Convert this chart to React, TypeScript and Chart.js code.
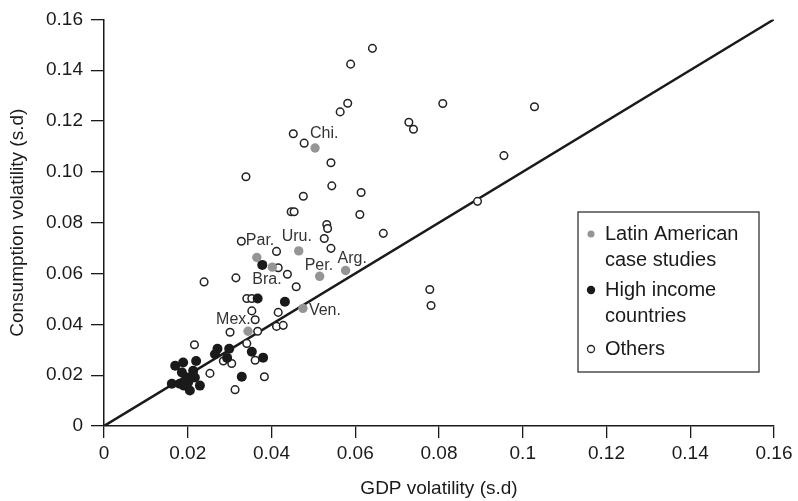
import React, { useEffect, useRef } from "react";
import { Chart, registerables } from "chart.js";
Chart.register(...registerables);

// ---- Data ----
const latinNames = ["Chi.", "Par.", "Uru.", "Bra.", "Per.", "Arg.", "Ven.", "Mex."];
const latinGdp = [0.0504, 0.0365, 0.0465, 0.0402, 0.0515, 0.0577, 0.0475, 0.0344];
const latinCons = [0.1094, 0.0663, 0.0689, 0.0625, 0.0589, 0.0612, 0.0463, 0.0373];

const highGdp = [0.0378, 0.0367, 0.0432, 0.0271, 0.0299, 0.0265, 0.0294, 0.0353, 0.038, 0.0329, 0.017, 0.0189, 0.022, 0.0186, 0.0213, 0.0162, 0.0181, 0.0201, 0.0205, 0.0229, 0.0217, 0.0198, 0.0191];
const highCons = [0.0634, 0.0502, 0.0489, 0.0304, 0.0304, 0.0282, 0.0268, 0.0292, 0.0269, 0.0194, 0.0237, 0.025, 0.0256, 0.0211, 0.0217, 0.0166, 0.0166, 0.0172, 0.014, 0.0159, 0.0191, 0.0191, 0.0159];

const otherGdp = [0.0216, 0.0301, 0.0341, 0.0367, 0.0361, 0.0353, 0.0285, 0.0305, 0.0361, 0.0253, 0.0383, 0.0313, 0.0416, 0.0412, 0.0428, 0.0315, 0.0341, 0.0353, 0.0416, 0.0438, 0.0459, 0.0328, 0.0412, 0.0239, 0.0526, 0.0542, 0.0532, 0.0534, 0.0611, 0.0614, 0.0544, 0.0476, 0.0447, 0.0454, 0.0339, 0.0542, 0.0641, 0.0589, 0.0582, 0.0564, 0.0452, 0.0478, 0.0809, 0.0728, 0.0739, 0.1028, 0.0955, 0.0892, 0.0667, 0.0778, 0.0781];
const otherCons = [0.032, 0.0369, 0.0325, 0.0373, 0.0418, 0.0453, 0.0256, 0.0246, 0.0259, 0.0207, 0.0194, 0.0143, 0.0447, 0.0392, 0.0396, 0.0583, 0.0502, 0.0502, 0.0623, 0.0597, 0.0548, 0.0727, 0.0687, 0.0567, 0.0738, 0.0699, 0.0793, 0.0777, 0.0832, 0.0919, 0.0945, 0.0904, 0.0843, 0.0843, 0.0981, 0.1036, 0.1486, 0.1424, 0.127, 0.1236, 0.115, 0.1113, 0.1269, 0.1195, 0.1168, 0.1256, 0.1064, 0.0884, 0.0758, 0.0537, 0.0474];

const diagGdp = [0, 0.16];
const diagCons = [0, 0.16];

const tickValues = [0, 0.02, 0.04, 0.06, 0.08, 0.1, 0.12, 0.14, 0.16];
const xTickLabels = ["0", "0.02", "0.04", "0.06", "0.08", "0.1", "0.12", "0.14", "0.16"];
const yTickLabels = ["0", "0.02", "0.04", "0.06", "0.08", "0.10", "0.12", "0.14", "0.16"];

const legendLines = [
  ["Latin American", "case studies"],
  ["High income", "countries"],
  ["Others"],
];

const xTitle = "GDP volatility (s.d)";
const yTitle = "Consumption volatility (s.d)";

// ---- Styles ----
const FONT = "'Liberation Sans', Arial, Helvetica, sans-serif";
const INK = "#1a1a1a";
const GRAY = "#959595";
const labelOffsets = [
  [-5, -14], [-11, -17], [-17, -14], [-20, 12], [-15, -11], [-8, -12], [6, 2], [-32, -12],
];

const zip = (xs: number[], ys: number[]) => xs.map((x, i) => ({ x, y: ys[i] }));

const pointLabelPlugin = {
  id: "pointLabels",
  afterDatasetsDraw(chart: any) {
    const meta = chart.getDatasetMeta(1);
    const ctx = chart.ctx;
    ctx.save();
    ctx.font = `16px ${FONT}`;
    ctx.fillStyle = "#333";
    ctx.textAlign = "left";
    ctx.textBaseline = "middle";
    meta.data.forEach((el: any, i: number) => {
      const [dx, dy] = labelOffsets[i];
      ctx.fillText(latinNames[i], el.x + dx, el.y + dy);
    });
    ctx.restore();
  },
};

const legendPlugin = {
  id: "customLegend",
  afterDraw(chart: any) {
    const ctx = chart.ctx;
    const bx = 578, by = 212, bw = 181, bh = 160;
    ctx.save();
    ctx.fillStyle = "#fff";
    ctx.fillRect(bx, by, bw, bh);
    ctx.strokeStyle = "#333";
    ctx.lineWidth = 1.3;
    ctx.strokeRect(bx, by, bw, bh);
    ctx.font = `20px ${FONT}`;
    ctx.textBaseline = "middle";
    ctx.textAlign = "left";
    const itemY = [234, 290, 349];
    const dsIdx = [1, 2, 3];
    const radii = [3.5, 4.2, 3.5];
    legendLines.forEach((lines, i) => {
      const ds = chart.data.datasets[dsIdx[i]];
      ctx.beginPath();
      ctx.arc(591, itemY[i], radii[i], 0, Math.PI * 2);
      ctx.fillStyle = ds.backgroundColor;
      ctx.fill();
      if (ds.borderWidth) {
        ctx.lineWidth = 1.3;
        ctx.strokeStyle = ds.borderColor;
        ctx.stroke();
      }
      ctx.fillStyle = INK;
      lines.forEach((t: string, j: number) => {
        ctx.fillText(t, 605, itemY[i] + j * 26);
      });
    });
    ctx.restore();
  },
};

export default function App() {
  const ref = useRef<HTMLCanvasElement | null>(null);
  useEffect(() => {
    document.body.style.margin = "0";
    const canvas = ref.current!;
    const chart = new Chart(canvas, {
      type: "scatter",
      data: {
        datasets: [
          {
            label: "Diagonal",
            data: zip(diagGdp, diagCons),
            showLine: true,
            borderColor: INK,
            borderWidth: 2.5,
            pointRadius: 0,
            order: 10,
          },
          {
            label: "Latin American case studies",
            data: zip(latinGdp, latinCons),
            backgroundColor: GRAY,
            borderColor: GRAY,
            borderWidth: 0,
            pointRadius: 4.7,
            order: 1,
          },
          {
            label: "High income countries",
            data: zip(highGdp, highCons),
            backgroundColor: INK,
            borderColor: INK,
            borderWidth: 0,
            pointRadius: 5,
            order: 2,
          },
          {
            label: "Others",
            data: zip(otherGdp, otherCons),
            backgroundColor: "#ffffff",
            borderColor: "#222",
            borderWidth: 1.5,
            pointRadius: 3.8,
            order: 3,
          },
        ],
      },
      options: {
        animation: false,
        responsive: false,
        maintainAspectRatio: false,
        layout: { padding: { top: 14, right: 24, left: 0, bottom: 0 } },
        plugins: { legend: { display: false }, tooltip: { enabled: false } },
        scales: {
          x: {
            type: "linear",
            min: 0,
            max: 0.16,
            afterBuildTicks: (s: any) => {
              s.ticks = tickValues.map((v) => ({ value: v }));
            },
            afterFit: (s: any) => {
              s.height = 75;
            },
            ticks: {
              callback: (_v: any, i: number) => xTickLabels[i],
              color: INK,
              font: { family: FONT, size: 19 },
              padding: 4,
              maxRotation: 0,
              autoSkip: false,
            },
            grid: { drawOnChartArea: false, drawTicks: true, tickLength: 12, color: INK, lineWidth: 1.3 },
            border: { display: true, color: INK, width: 1.5 },
            title: { display: true, text: xTitle, color: INK, font: { family: FONT, size: 19 }, padding: { top: 0, bottom: 1 } },
          },
          y: {
            type: "linear",
            min: 0,
            max: 0.16,
            afterBuildTicks: (s: any) => {
              s.ticks = tickValues.map((v) => ({ value: v }));
            },
            afterFit: (s: any) => {
              s.width = 104;
            },
            ticks: {
              callback: (_v: any, i: number) => yTickLabels[i],
              color: INK,
              font: { family: FONT, size: 19 },
              padding: 8,
              autoSkip: false,
            },
            grid: { drawOnChartArea: false, drawTicks: true, tickLength: 13, color: INK, lineWidth: 1.3 },
            border: { display: true, color: INK, width: 1.5 },
            title: { display: true, text: yTitle, color: INK, font: { family: FONT, size: 19 }, padding: { top: 6, bottom: 0 } },
          },
        },
      },
      plugins: [pointLabelPlugin, legendPlugin],
    } as any);
    return () => chart.destroy();
  }, []);
  return <canvas ref={ref} width={798} height={501} style={{ display: "block" }} />;
}
